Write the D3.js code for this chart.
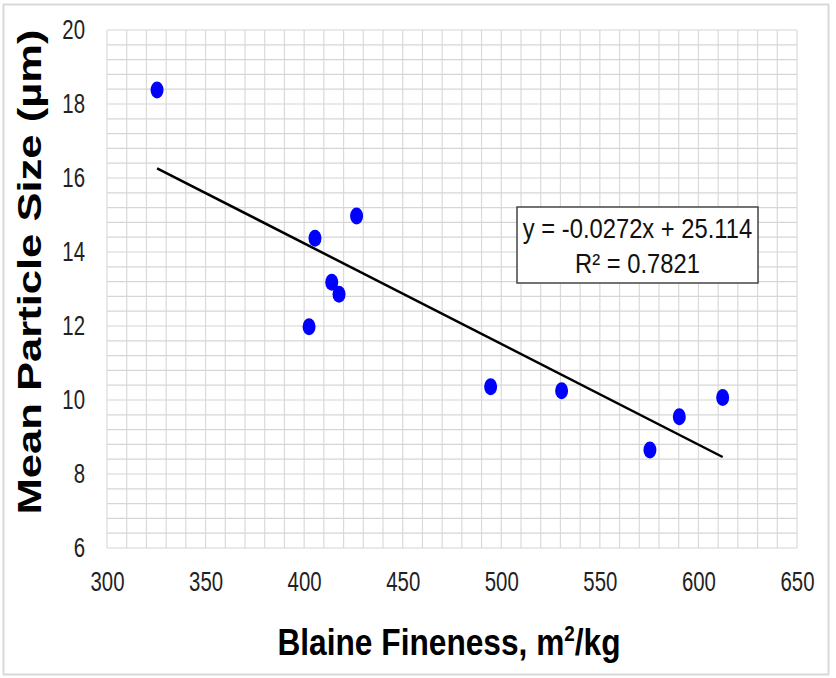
<!DOCTYPE html>
<html>
<head>
<meta charset="utf-8">
<script src="https://cdn.jsdelivr.net/npm/d3@7/dist/d3.min.js"></script>
<style>
  body { margin: 0; background: #fff; }
  text { font-family: "Liberation Sans", Arial, sans-serif; }
</style>
</head>
<body>
<script>
// data
const blaine = [325.4, 426.6, 405.5, 414.0, 417.7, 402.5, 494.6, 530.6, 575.4, 590.3, 612.3];
const particle = [18.38, 14.97, 14.37, 13.18, 12.86, 11.98, 10.36, 10.25, 8.65, 9.55, 10.07];
const xTicks = [300, 350, 400, 450, 500, 550, 600, 650];
const yTicks = [6, 8, 10, 12, 14, 16, 18, 20];
const slope = -0.0272, intercept = 25.114, r2 = 0.7821;

var W = 836, H = 678;
var margin = { top: 30, right: 39, bottom: 130, left: 107 },
  width = W - margin.left - margin.right,
  height = H - margin.top - margin.bottom;

// the original picture is a bit stretched vertically, squeeze text to match
function condense(sel, sx, sy) {
  sel.each(function () {
    var t = d3.select(this);
    var tx = +t.attr("x") || 0, ty = +t.attr("y") || 0;
    t.attr("x", 0).attr("y", 0)
      .attr("transform", `translate(${tx},${ty}) scale(${sx},${sy})`);
  });
}

var svg = d3.select("body").append("svg")
  .attr("width", W)
  .attr("height", H);

// outer frame
svg.append("rect")
  .attr("x", 3.5).attr("y", 4.5)
  .attr("width", 825).attr("height", 670)
  .attr("fill", "#fff")
  .attr("stroke", "#d9d9d9")
  .attr("stroke-width", 2);

const x = d3.scaleLinear().domain([300, 650]).range([0, width]);
const y = d3.scaleLinear().domain([6, 20]).range([height, 0]);

var g = svg.append("g").attr("transform", `translate(${margin.left},${margin.top})`);

// minor + major gridlines
g.append("g").selectAll("line")
  .data(d3.range(300, 651, 10))
  .enter().append("line")
  .attr("x1", d => x(d)).attr("x2", d => x(d))
  .attr("y1", 0).attr("y2", height)
  .attr("stroke", "#dadada").attr("stroke-width", 1.2);

g.append("g").selectAll("line")
  .data(d3.range(0, 36).map(i => 6 + i * 0.4))
  .enter().append("line")
  .attr("x1", 0).attr("x2", width)
  .attr("y1", d => y(d)).attr("y2", d => y(d))
  .attr("stroke", "#d6d6d6").attr("stroke-width", 1.2);

// axes (labels only)
var xAxis = g.append("g")
  .attr("transform", `translate(0,${height})`)
  .call(d3.axisBottom(x).tickValues(xTicks).tickSize(0).tickPadding(24));
xAxis.select(".domain").remove();
xAxis.selectAll("text").attr("font-size", 24).attr("fill", "#222");
condense(xAxis.selectAll("text"), 0.85, 1.12);

var yAxis = g.append("g")
  .call(d3.axisLeft(y).tickValues(yTicks).tickSize(0).tickPadding(22));
yAxis.select(".domain").remove();
yAxis.selectAll("text").attr("font-size", 24).attr("fill", "#222");
condense(yAxis.selectAll("text"), 0.85, 1.12);

// trendline over data range
const xMin = d3.min(blaine), xMax = d3.max(blaine);
g.append("line")
  .attr("x1", x(xMin)).attr("y1", y(slope * xMin + intercept))
  .attr("x2", x(xMax)).attr("y2", y(slope * xMax + intercept))
  .attr("stroke", "#000").attr("stroke-width", 2.5);

// points
g.append("g").selectAll("ellipse")
  .data(blaine.map((b, i) => [b, particle[i]]))
  .enter().append("ellipse")
  .attr("cx", d => x(d[0])).attr("cy", d => y(d[1]))
  .attr("rx", 6.5).attr("ry", 8.5)
  .attr("fill", "#0000ff");

// equation box
var box = g.append("g").attr("transform", `translate(${517 - margin.left},${207 - margin.top})`);
box.append("rect")
  .attr("width", 241).attr("height", 76)
  .attr("fill", "#fff").attr("stroke", "#444").attr("stroke-width", 1.5);
var eq = box.append("g");
eq.append("text")
  .attr("x", 120.5).attr("y", 31)
  .attr("text-anchor", "middle").attr("font-size", 24).attr("fill", "#111")
  .text(`y = ${slope}x + ${intercept}`);
eq.append("text")
  .attr("x", 120.5).attr("y", 66)
  .attr("text-anchor", "middle").attr("font-size", 24).attr("fill", "#111")
  .text(`R² = ${r2}`);
condense(eq.selectAll("text"), 0.99, 1.12);

// axis titles
var xt = svg.append("text")
  .attr("x", 449).attr("y", 655)
  .attr("text-anchor", "middle")
  .attr("font-size", 32).attr("font-weight", "bold")
  .html('Blaine Fineness, m<tspan dy="-12" font-size="19">2</tspan><tspan dy="12">/kg</tspan>');
condense(xt, 0.99, 1.15);

svg.append("text")
  .attr("transform", `translate(41,${272}) rotate(-90)`)
  .attr("text-anchor", "middle")
  .attr("font-size", 33).attr("font-weight", "bold")
  .attr("textLength", 485).attr("lengthAdjust", "spacingAndGlyphs")
  .text("Mean Particle Size (µm)");
</script>
</body>
</html>
